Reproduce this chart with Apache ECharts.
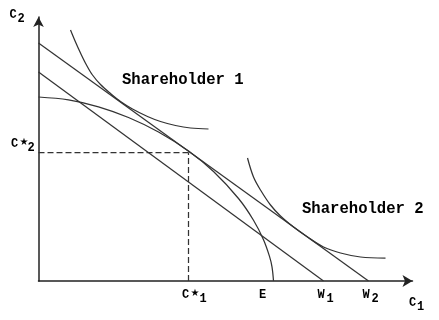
<!DOCTYPE html>
<html>
<head>
<meta charset="utf-8">
<script src="https://cdn.jsdelivr.net/npm/echarts@6/dist/echarts.min.js"></script>
<style>
html,body{margin:0;padding:0;background:#fff;}
#c{width:439px;height:320px;}
</style>
</head>
<body>
<div id="c"></div>
<script>
// Data (x = C1 units, y = C2 units)
const budgetLine2 = [[0, 238], [330, 0]];
const budgetLine1 = [[0, 209], [285, 0]];
const frontier = [[0, 184], [30, 181.1], [60, 174.2], [90, 163.5], [120, 149.0], [150, 130.0], [175, 109.5], [200, 82.5], [215, 60.8], [225, 41.3], [231, 24.6], [233.5, 14.1], [235, 0]];
const indiff1 = [[32, 251], [37, 239], [42, 228], [48, 216], [54, 206], [62, 196.5], [72, 187.5], [82, 179.5], [94, 172], [109, 164.5], [122, 159.5], [137, 155.5], [152, 153], [170, 152]];
const indiff2 = [[209, 123], [215, 104], [222, 91], [232, 76], [242, 65], [255, 54], [269, 44], [285, 34], [302, 28], [322, 24], [347, 23]];
const optC1 = 150;
const optC2 = 128.5;
const curveNames = ['Shareholder 1', 'Shareholder 2'];

const chart = echarts.init(document.getElementById('c'), null, {renderer: 'canvas'});
const lineCol = '#333';
const mono = '"Liberation Mono", "Courier New", monospace';
function txt(s, x, y, size, font) {
  return {type: 'text', left: x, top: y, style: {text: s, fill: '#000', font: 'bold ' + size + 'px ' + (font || mono)}};
}
function lineSeries(data, smooth, dashed) {
  return {
    type: 'line', data: data, showSymbol: false, smooth: smooth ? 0.35 : false,
    lineStyle: {color: lineCol, width: 1.25, type: dashed ? [6, 3] : 'solid'},
    silent: true, animation: false
  };
}
chart.setOption({
  animation: false,
  grid: {left: 38.5, top: 17, width: 374, height: 264},
  xAxis: {type: 'value', min: 0, max: 374, splitLine: {show: false}, axisLabel: {show: false}, axisTick: {show: false},
    axisLine: {show: true, symbol: ['none', 'arrow'], symbolSize: [9, 10], lineStyle: {color: '#222', width: 1.5}}},
  yAxis: {type: 'value', min: 0, max: 264, splitLine: {show: false}, axisLabel: {show: false}, axisTick: {show: false},
    axisLine: {show: true, symbol: ['none', 'arrow'], symbolSize: [8, 10], lineStyle: {color: '#222', width: 1.5}}},
  series: [
    lineSeries(budgetLine2, false),
    lineSeries(budgetLine1, false),
    lineSeries(frontier, true),
    lineSeries(indiff1, true),
    lineSeries(indiff2, true),
    lineSeries([[optC1, 0], [optC1, optC2]], false, true),
    lineSeries([[0, optC2], [optC1, optC2]], false, true)
  ],
  graphic: [
    txt(curveNames[0], 122, 72, 15.6),
    txt(curveNames[1], 302, 201, 15.6),
    txt('C', 9.5, 9, 12), txt('2', 17.5, 13, 12),
    txt('C', 11, 138, 12), txt('★', 19.5, 137.5, 10, '"DejaVu Sans"'), txt('2', 27.5, 142, 12),
    txt('C', 182, 289, 12), txt('★', 190.5, 288.5, 10, '"DejaVu Sans"'), txt('1', 199.5, 293, 12),
    txt('E', 259, 289, 12),
    txt('W', 317.5, 289, 12), txt('1', 326.5, 293, 12),
    txt('W', 362.5, 289, 12), txt('2', 371.5, 293, 12),
    txt('C', 409, 296.5, 12), txt('1', 417, 300.5, 12)
  ]
});
</script>
</body>
</html>
